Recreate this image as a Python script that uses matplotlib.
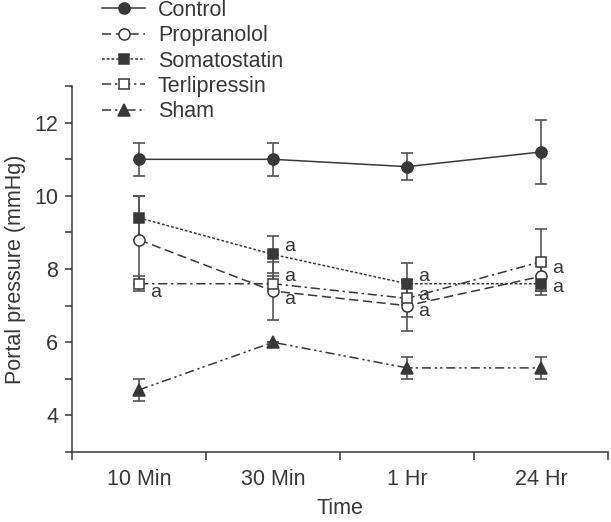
import numpy as np
import matplotlib.pyplot as plt
from matplotlib.ticker import FixedLocator, NullFormatter

plt.rcParams['font.family'] = ['Liberation Sans', 'DejaVu Sans']

# ===== data =====
times = ['10 Min', '30 Min', '1 Hr', '24 Hr']

control = [11.0, 11.0, 10.8, 11.2]
control_err = [0.45, 0.45, 0.37, 0.87]

propranolol = [8.8, 7.4, 7.0, 7.8]
propranolol_err = [1.2, 0.8, 0.7, 0.4]

somatostatin = [9.4, 8.4, 7.6, 7.6]
somatostatin_err = [0.6, 0.5, 0.57, 0.2]

terlipressin = [7.6, 7.6, 7.2, 8.2]
terlipressin_err = [0.2, 0.2, 0.5, 0.9]

sham = [4.7, 6.0, 5.3, 5.3]
sham_err = [0.3, 0.0, 0.3, 0.3]

# significance marks "a": (group, time index)
sig_marks = [
    ('Terlipressin', 0),
    ('Somatostatin', 1), ('Terlipressin', 1), ('Propranolol', 1),
    ('Somatostatin', 2), ('Terlipressin', 2), ('Propranolol', 2),
    ('Terlipressin', 3), ('Somatostatin', 3),
]

# ===== style =====
ink = '#383838'
err_col = '#555555'
fs = 15.5
x = np.arange(len(times)) + 0.5

groups = {
    'Control':      (control, control_err, dict(ls='-', marker='o', mfc=ink, ms=8)),
    'Propranolol':  (propranolol, propranolol_err, dict(ls=(0, (6, 3)), marker='o', mfc='white', ms=8)),
    'Somatostatin': (somatostatin, somatostatin_err, dict(ls=(0, (1.8, 1.3)), marker='s', mfc=ink, ms=7)),
    'Terlipressin': (terlipressin, terlipressin_err, dict(ls=(0, (6, 2.5, 1.5, 2.5)), marker='s', mfc='white', ms=7)),
    'Sham':         (sham, sham_err, dict(ls=(0, (6, 2.5, 1.5, 2, 1.5, 2.5)), marker='^', mfc=ink, ms=9)),
}

# label offsets (points) for the "a" marks
sig_offsets = {
    ('Terlipressin', 0): (8, -6),
    ('Somatostatin', 1): (8, 6), ('Terlipressin', 1): (8, 5), ('Propranolol', 1): (8, -6),
    ('Somatostatin', 2): (8, 5), ('Terlipressin', 2): (8, 2), ('Propranolol', 2): (8, -4),
    ('Terlipressin', 3): (8, -5), ('Somatostatin', 3): (8, -3),
}

fig = plt.figure(figsize=(6.11, 5.22), dpi=100)
ax = fig.add_axes([0.118, 0.134, 0.877, 0.701])

handles = []
for name, (vals, errs, st) in groups.items():
    ax.errorbar(x, vals, yerr=errs, fmt='none', ecolor=err_col, elinewidth=1.2,
                capsize=4.5, capthick=1.2, zorder=2)
for name, (vals, errs, st) in groups.items():
    h, = ax.plot(x, vals, color=ink, lw=1.1, linestyle=st['ls'], marker=st['marker'],
                 mfc=st['mfc'], mec=ink, mew=1.1, ms=st['ms'], label=name, zorder=3)
    handles.append(h)

for g, i in sig_marks:
    vals = groups[g][0]
    ax.annotate('a', xy=(x[i], vals[i]), xytext=sig_offsets[(g, i)],
                textcoords='offset points', ha='left', va='center',
                fontsize=14, color=ink)

ax.set_xlim(0, 4)
ax.set_ylim(3, 13)
ax.set_xticks(np.arange(0, 5))
ax.xaxis.set_major_formatter(NullFormatter())
ax.xaxis.set_minor_locator(FixedLocator(x))
ax.set_xticklabels(times, minor=True)
ax.tick_params(axis='x', which='minor', length=0, pad=12, labelsize=fs, labelcolor=ink)
ax.tick_params(axis='x', which='major', length=6, width=1.1, color=ink, direction='out')

ax.set_yticks(np.arange(3, 14))
ax.set_yticklabels(['' if v % 2 else str(v) for v in range(3, 14)])
ax.tick_params(axis='y', length=5, width=1.1, color=ink, direction='out', pad=5,
               labelsize=fs, labelcolor=ink)

for s in ['top', 'right']:
    ax.spines[s].set_visible(False)
for s in ['left', 'bottom']:
    ax.spines[s].set_color(ink)
    ax.spines[s].set_linewidth(1.1)

ax.set_xlabel('Time', fontsize=fs, color=ink, labelpad=6)
ax.set_ylabel('Portal pressure (mmHg)', fontsize=fs, color=ink, labelpad=6)

fig.legend(handles=handles, loc='upper left', bbox_to_anchor=(102 / 611, 1.0),
           frameon=False, fontsize=fs, handlelength=2.0, handletextpad=0.6,
           labelspacing=0.2, borderpad=0, borderaxespad=0, labelcolor=ink)

fig.savefig('out.png', dpi=100)
